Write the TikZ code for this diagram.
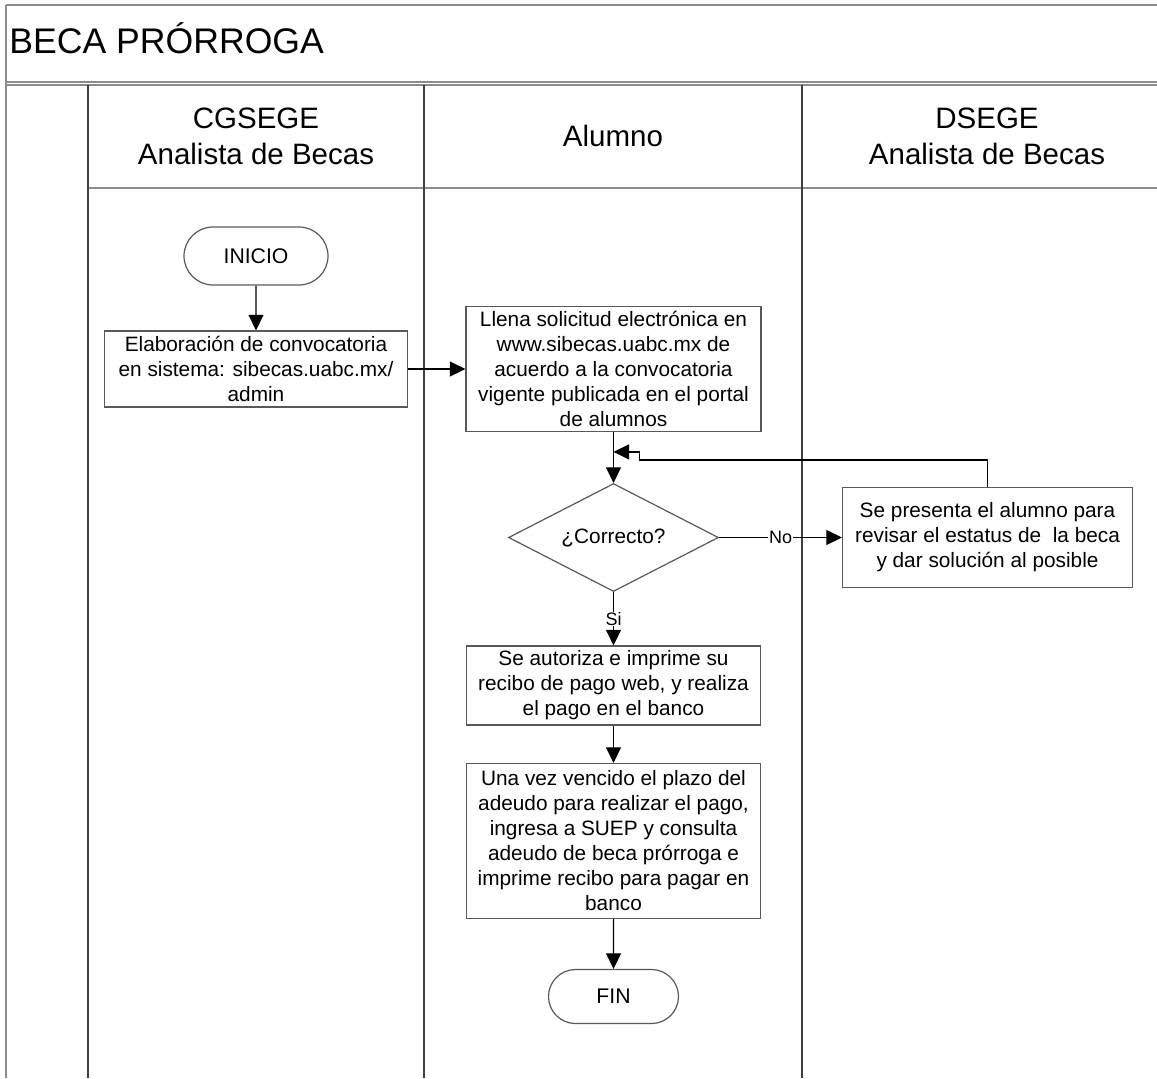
\documentclass[tikz,border=0pt]{standalone}
\usepackage{fontspec}
\setmainfont{Liberation Sans}
\usetikzlibrary{shapes.geometric, shapes.misc, arrows.meta, positioning}

\begin{document}
\begin{tikzpicture}[x=0.5pt, y=0.5pt, node distance=3cm,
    process/.style={rectangle, draw=black!65, fill=white, line width=0.6pt, align=center,
                    inner sep=1pt, font=\fontsize{10.4}{12.5}\selectfont},
    terminal/.style={rounded rectangle, draw=black!65, fill=white, line width=0.6pt,
                     inner sep=1pt, font=\fontsize{10.6}{12.5}\selectfont},
    decision/.style={diamond, aspect=2, draw=black!65, fill=white, line width=0.6pt,
                     minimum width=105pt, minimum height=54pt, inner sep=1pt,
                     font=\fontsize{10.4}{12.5}\selectfont},
    header/.style={align=center, inner sep=0pt, font=\fontsize{14.75}{18}\selectfont},
    flag/.style={fill=white, inner sep=0.3pt, anchor=center, font=\fontsize{9}{10}\selectfont},
    arrow/.style={-{Triangle[length=7.8pt, width=7.5pt]}, line width=0.6pt, black},
    frame/.style={draw=black!45, line width=1pt},
    lane/.style={draw=black!75, line width=0.6pt}]

    \useasboundingbox (0,0) rectangle (1157,-1078);

    % Swimlanes
    \draw[frame] (6,-5) -- (1157,-5);
    \draw[frame] (6,-5) -- (6,-1078);
    \draw[frame] (6,-81.5) -- (1157,-81.5);
    \draw[frame] (6,-84.5) -- (1157,-84.5);
    \draw[frame] (88,-188) -- (1157,-188);
    \foreach \x in {88,424,802}
        \draw[lane] (\x,-85) -- (\x,-1078);

    \node[anchor=base west, inner sep=0pt, font=\fontsize{17.8}{21}\selectfont] (titulo) at (9,-53.5) {BECA PRÓRROGA};
    \node[header] (cgsege) at (256,-136) {CGSEGE\\Analista de Becas};
    \node[header] (alumno) at (613,-136) {Alumno};
    \node[header] (dsege) at (987,-136) {DSEGE\\Analista de Becas};

    % Nodes
    \node[terminal, minimum width=74pt, minimum height=29pt] (inicio) at (256,-256) {INICIO};
    \node[process, below of=inicio, node distance=56.5pt, minimum width=151.5pt, minimum height=38pt] (convocatoria)
        {Elaboración de convocatoria\\en sistema: sibecas.uabc.mx/\\admin};
    \node[process, right of=convocatoria, node distance=178.75pt, minimum width=147.5pt, minimum height=62.5pt] (solicitud)
        {Llena solicitud electrónica en\\www.sibecas.uabc.mx de\\acuerdo a la convocatoria\\vigente publicada en el portal\\de alumnos};
    \node[decision, below of=solicitud, node distance=84.25pt] (correcto) {¿Correcto?};
    \node[process, right of=correcto, node distance=187pt, minimum width=145pt, minimum height=50pt] (revision)
        {Se presenta el alumno para\\revisar el estatus de\ \ la beca\\y dar solución al posible};
    \node[process, below of=correcto, node distance=74pt, minimum width=147pt, minimum height=39.5pt] (pago)
        {Se autoriza e imprime su\\recibo de pago web, y realiza\\el pago en el banco};
    \node[process, below of=pago, node distance=77.75pt, minimum width=147pt, minimum height=77.5pt] (adeudo)
        {Una vez vencido el plazo del\\adeudo para realizar el pago,\\ingresa a SUEP y consulta\\adeudo de beca prórroga e\\imprime recibo para pagar en\\banco};
    \node[terminal, below of=adeudo, node distance=77.75pt, minimum width=67pt, minimum height=27pt] (fin) {FIN};
    \coordinate[above=15.5pt of correcto.north] (retorno);

    % Arrows
    \draw[arrow] (inicio) -- (convocatoria);
    \draw[arrow] (convocatoria) -- (solicitud);
    \draw[arrow] (solicitud) -- (correcto);
    \draw[arrow] (correcto) -- node[flag] {No} (revision);
    \draw[arrow] (correcto) -- node[flag] {Si} (pago);
    \draw[arrow] (pago) -- (adeudo);
    \draw[arrow] (adeudo) -- (fin);
    \draw[arrow] (revision.north) |- ([xshift=13pt, yshift=-4pt]retorno) |- (retorno);

\end{tikzpicture}
\end{document}
